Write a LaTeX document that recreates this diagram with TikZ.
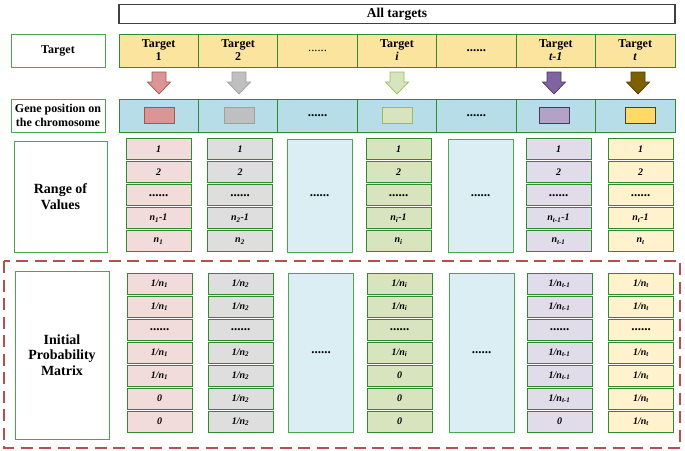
\documentclass[tikz,border=0pt]{standalone}
\usepackage{fontspec}
\setmainfont{Liberation Serif}
\definecolor{tgtfill}{HTML}{FBE49D}
\definecolor{genefill}{HTML}{B7DEE8}
\definecolor{dotfill}{HTML}{DAEEF3}
\definecolor{lblline}{HTML}{4CA64C}
\definecolor{cellline}{HTML}{2E8B2E}
\definecolor{redL}{HTML}{F2DCDB}
\definecolor{grayL}{HTML}{DEDEDE}
\definecolor{greenL}{HTML}{D7E4BD}
\definecolor{purpleL}{HTML}{E1DCEA}
\definecolor{yellowL}{HTML}{FFF2CC}
\definecolor{redM}{HTML}{D99694}
\definecolor{redD}{HTML}{B0504D}
\definecolor{grayM}{HTML}{BFBFBF}
\definecolor{grayD}{HTML}{A0A0A0}
\definecolor{greenM}{HTML}{D7E4BD}
\definecolor{greenD}{HTML}{9BBB59}
\definecolor{purpleM}{HTML}{8064A2}
\definecolor{purpleR}{HTML}{B3A2C7}
\definecolor{purpleD}{HTML}{4A3860}
\definecolor{brownM}{HTML}{7F6000}
\definecolor{brownD}{HTML}{4F3C00}
\definecolor{yellowM}{HTML}{FFD966}
\definecolor{frameRed}{HTML}{B5504E}
\newcommand\sixdots{{\fontsize{13}{13}\selectfont\bfseries\upshape......}}
\newcommand\thindots{{\fontsize{12.5}{13}\selectfont\mdseries\upshape......}}
\begin{document}
\begin{tikzpicture}[x=1pt,y=-1pt,
  lbl/.style={draw=lblline, line width=0.8pt, fill=white, inner sep=0pt, align=center,
    font=\bfseries\fontsize{12}{13}\selectfont},
  bigl/.style={lbl, font=\bfseries\fontsize{14}{15.7}\selectfont},
  tgt/.style={draw=cellline, line width=0.8pt, fill=tgtfill, inner sep=0pt, align=center,
    minimum width=79.43pt, minimum height=33pt, font=\bfseries\fontsize{12}{13}\selectfont},
  gene/.style={tgt, fill=genefill},
  cell/.style={draw=cellline, line width=0.8pt, inner sep=0pt, minimum width=65pt,
    minimum height=21pt, font=\bfseries\itshape\fontsize{10}{11}\selectfont},
  dotcol/.style={draw=lblline, line width=0.8pt, fill=dotfill, inner sep=0pt, minimum width=65pt},
  genemark/.style={line width=0.8pt, minimum width=30pt, minimum height=16pt, inner sep=0pt},
  downarrow/.style={line width=0.7pt}
]
\useasboundingbox (0,0) rectangle (685,450);

% header
\node[draw=black!75, line width=1.2pt, minimum width=556pt, minimum height=19.5pt, inner sep=0pt,
  font=\bfseries\fontsize{13.5}{14}\selectfont] (all) at (397,14) {All targets};

% row labels
\node[lbl, minimum width=94pt, minimum height=33pt] (ltarget) at (58,50.5) {Target};
\node[lbl, minimum width=94pt, minimum height=33pt, font=\bfseries\fontsize{12}{14}\selectfont]
  (lgene) at (58,115.5) {Gene position on\\the chromosome};
\node[bigl, minimum width=93pt, minimum height=111pt] (lrange) at (60.5,196.5) {Range of\\Values};
\node[bigl, minimum width=94pt, minimum height=168pt] (lprob) at (62,355) {Initial\\Probability\\Matrix};

% target row
\node[tgt] (t1) at (158.7,50.5) {Target\\1};
\node[tgt] (t2) at (238.1,50.5) {Target\\2};
\node[tgt] (t3) at (317.5,50.5) {\thindots};
\node[tgt] (t4) at (397.0,50.5) {Target\\\textit{i}};
\node[tgt] (t5) at (476.4,50.5) {\sixdots};
\node[tgt] (t6) at (555.8,50.5) {Target\\\textit{t-1}};
\node[tgt] (t7) at (635.2,50.5) {Target\\\textit{t}};

% gene row
\node[gene] (g1) at (158.7,115.5) {};
\node[gene] (g2) at (238.1,115.5) {};
\node[gene] (g3) at (317.5,115.5) {\sixdots};
\node[gene] (g4) at (397.0,115.5) {};
\node[gene] (g5) at (476.4,115.5) {\sixdots};
\node[gene] (g6) at (555.8,115.5) {};
\node[gene] (g7) at (635.2,115.5) {};

\node[genemark, draw=redD, fill=redM] (m1) at (159,115) {};
\node[genemark, draw=grayD, fill=grayM] (m2) at (239.5,115) {};
\node[genemark, draw=greenD, fill=greenM] (m4) at (397,115) {};
\node[genemark, draw=purpleD, fill=purpleR] (m6) at (554.5,115) {};
\node[genemark, draw=black!75, fill=yellowM] (m7) at (640.5,115) {};

% block arrows between the rows
\foreach \cx/\fc/\dc in {159/redM/redD, 239/grayM/grayD, 397/greenM/greenD,
                         554/purpleM/purpleD, 638/brownM/brownD}
  \draw[downarrow, draw=\dc, fill=\fc]
    (\cx-7,72) -- (\cx+7,72) -- (\cx+7,82) -- (\cx+11.5,82) -- (\cx,94)
    -- (\cx-11.5,82) -- (\cx-7,82) -- cycle;

% range of values
\foreach \t [count=\k from 0] in {1,2,\sixdots,n\textsubscript{1}-1,n\textsubscript{1}}
  \node[cell, fill=redL] (ra\k) at (158.5,{149.25+23*\k}) {\t};
\foreach \t [count=\k from 0] in {1,2,\sixdots,n\textsubscript{2}-1,n\textsubscript{2}}
  \node[cell, fill=grayL] (rb\k) at (240,{149.25+23*\k}) {\t};
\foreach \t [count=\k from 0] in {1,2,\sixdots,n\textsubscript{i}-1,n\textsubscript{i}}
  \node[cell, fill=greenL] (rc\k) at (398.5,{149.25+23*\k}) {\t};
\foreach \t [count=\k from 0] in {1,2,\sixdots,n\textsubscript{t-1}-1,n\textsubscript{t-1}}
  \node[cell, fill=purpleL] (rd\k) at (558.5,{149.25+23*\k}) {\t};
\foreach \t [count=\k from 0] in {1,2,\sixdots,n\textsubscript{t}-1,n\textsubscript{t}}
  \node[cell, fill=yellowL] (re\k) at (640.5,{149.25+23*\k}) {\t};
\node[dotcol, minimum height=113pt] (rdots1) at (319.5,195.5) {\sixdots};
\node[dotcol, minimum height=113pt] (rdots2) at (480.5,195.5) {\sixdots};

% initial probability matrix
\draw[frameRed, line width=1.3pt, dash pattern=on 12pt off 6.5pt] (4,261) rectangle (680,448);
\foreach \t [count=\k from 0] in {1/n\textsubscript{1},1/n\textsubscript{1},\sixdots,
    1/n\textsubscript{1},1/n\textsubscript{1},0,0}
  \node[cell, fill=redL] (pa\k) at (159.5,{283.5+23*\k}) {\t};
\foreach \t [count=\k from 0] in {1/n\textsubscript{2},1/n\textsubscript{2},\sixdots,
    1/n\textsubscript{2},1/n\textsubscript{2},1/n\textsubscript{2},1/n\textsubscript{2}}
  \node[cell, fill=grayL] (pb\k) at (240.5,{283.5+23*\k}) {\t};
\foreach \t [count=\k from 0] in {1/n\textsubscript{i},1/n\textsubscript{i},\sixdots,
    1/n\textsubscript{i},0,0,0}
  \node[cell, fill=greenL] (pc\k) at (399.5,{283.5+23*\k}) {\t};
\foreach \t [count=\k from 0] in {1/n\textsubscript{t-1},1/n\textsubscript{t-1},\sixdots,
    1/n\textsubscript{t-1},1/n\textsubscript{t-1},1/n\textsubscript{t-1},0}
  \node[cell, fill=purpleL] (pd\k) at (559.5,{283.5+23*\k}) {\t};
\foreach \t [count=\k from 0] in {1/n\textsubscript{t},1/n\textsubscript{t},\sixdots,
    1/n\textsubscript{t},1/n\textsubscript{t},1/n\textsubscript{t},1/n\textsubscript{t}}
  \node[cell, fill=yellowL] (pe\k) at (641,{283.5+23*\k}) {\t};
\node[dotcol, minimum height=159pt] (pdots1) at (321,352.5) {\sixdots};
\node[dotcol, minimum height=159pt] (pdots2) at (481.5,352.5) {\sixdots};
\end{tikzpicture}
\end{document}
